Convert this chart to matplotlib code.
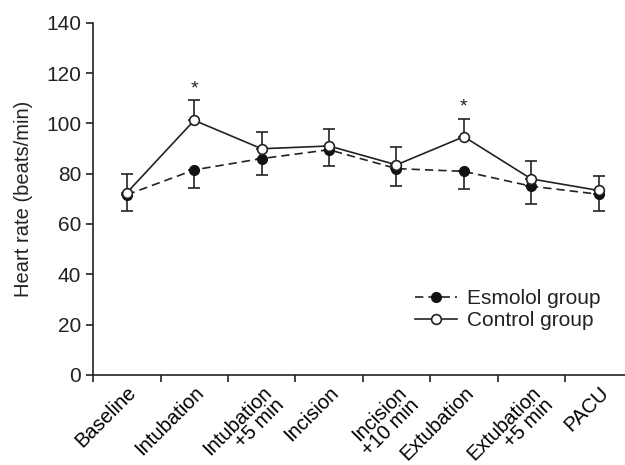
import matplotlib
matplotlib.use("Agg")
import matplotlib.pyplot as plt
import numpy as np

plt.rcParams['font.family'] = ['Liberation Sans', 'DejaVu Sans']

# data
timepoints = ['Baseline', 'Intubation', 'Intubation\n+5 min', 'Incision',
              'Incision\n+10 min', 'Extubation', 'Extubation\n+5 min', 'PACU']
esmolol = [71.6, 81.5, 86.0, 89.5, 82.0, 80.9, 75.0, 71.8]
esmolol_sd = [6.6, 7.1, 6.4, 6.5, 6.8, 6.9, 7.0, 6.8]
control = [72.4, 101.2, 89.9, 91.0, 83.5, 94.7, 77.9, 73.3]
control_sd = [7.6, 8.1, 6.7, 6.8, 7.0, 7.1, 7.1, 5.6]
signif = [1, 5]
star_y = [113.5, 106.5]

x = np.arange(len(timepoints))
ink = '#222222'

fig = plt.figure(figsize=(6.25, 4.65), dpi=100)
ax = fig.add_axes([0.149, 0.194, 0.851, 0.757])

ax.errorbar(x, esmolol, yerr=[esmolol_sd, np.zeros(len(x))], fmt='none',
            ecolor=ink, elinewidth=1.2, capsize=4, capthick=1.2, zorder=2)
ax.errorbar(x, control, yerr=[np.zeros(len(x)), control_sd], fmt='none',
            ecolor=ink, elinewidth=1.2, capsize=4, capthick=1.2, zorder=2)
ax.plot(x, esmolol, '--', color=ink, lw=1.2, dashes=(5, 3),
        marker='o', ms=7, mfc='#111111', mec='#111111', label='Esmolol group', zorder=3)
ax.plot(x, control, '-', color=ink, lw=1.2,
        marker='o', ms=7, mfc='white', mec=ink, mew=1.2, label='Control group', zorder=4)

for i, yy in zip(signif, star_y):
    ax.text(x[i], yy, '*', ha='center', va='center', fontsize=14, color=ink)

ax.set_ylim(0, 140)
ax.set_yticks(np.arange(0, 141, 20))
ax.set_xlim(-0.5, 7.39)
ax.set_xticks(np.arange(-0.5, 7.0, 1.0))
ax.set_xticklabels([])
ax.set_xticks(x, minor=True)
ax.set_xticklabels(timepoints, minor=True, rotation=45, ha='right',
                   rotation_mode='anchor', fontsize=14.5, linespacing=0.9)
ax.tick_params(axis='x', which='minor', length=0, pad=6)
ax.tick_params(axis='both', which='major', length=5, width=1.2, direction='out',
               labelsize=15, colors=ink)
ax.set_ylabel('Heart rate (beats/min)', fontsize=14.5, color=ink)
ax.yaxis.set_label_coords(-0.113, 0.5)

for s in ['top', 'right']:
    ax.spines[s].set_visible(False)
for s in ['left', 'bottom']:
    ax.spines[s].set_linewidth(1.2)
    ax.spines[s].set_color(ink)

leg = fig.legend(*ax.get_legend_handles_labels(), loc='upper left',
                 bbox_to_anchor=(0.664, 0.378), frameon=False, borderpad=0,
                 borderaxespad=0, fontsize=15, handlelength=2.0,
                 handletextpad=0.5, labelspacing=0.15)
for t in leg.get_texts():
    t.set_color(ink)

fig.savefig('out.png', dpi=100)
